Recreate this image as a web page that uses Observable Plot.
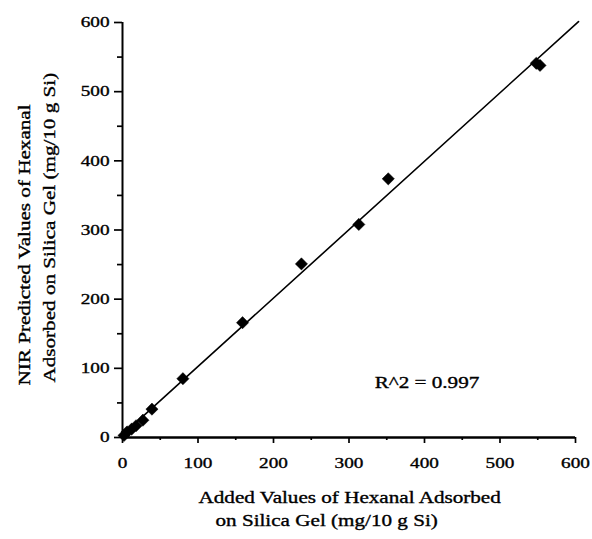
<!DOCTYPE html>
<html>
<head>
<meta charset="utf-8">
<script src="https://cdn.jsdelivr.net/npm/d3@7"></script>
<script src="https://cdn.jsdelivr.net/npm/@observablehq/plot@0.6"></script>
<style>
  html, body { margin: 0; padding: 0; background: white; }
  svg text { stroke: black; stroke-width: 0.35px; }
</style>
</head>
<body>
<script>
// Data
const addedValues     = [2, 6, 12, 18, 27, 39, 80, 159, 237, 313, 352, 548, 553];
const predictedValues = [3, 8, 12, 17, 25, 41, 85, 166, 251, 308, 374, 541, 538];
const majorTicks = [0, 100, 200, 300, 400, 500, 600];
const minorTicks = [50, 150, 250, 350, 450, 550];
const fitExtent = [0, 604];
const noteText = ["R^2 = 0.997"];
const noteX = [334];
const noteY = [72];
const xTitle = ["Added Values of Hexanal Adsorbed", "on Silica Gel (mg/10 g Si)"];
const yTitle = ["NIR Predicted Values of Hexanal", "Adsorbed on Silica Gel (mg/10 g Si)"];

const data = addedValues.map((x, i) => ({x, y: predictedValues[i]}));

// least-squares fit line
const mx = d3.mean(addedValues), my = d3.mean(predictedValues);
const slope = d3.sum(data, d => (d.x - mx) * (d.y - my)) / d3.sum(data, d => (d.x - mx) ** 2);
const intercept = my - slope * mx;
const fitLine = fitExtent.map(x => ({x, y: intercept + slope * x}));
const note = noteText.map((t, i) => ({t, x: noteX[i], y: noteY[i]}));

const serif = "'Liberation Serif', 'Times New Roman', serif";

const svg = Plot.plot({
  width: 592,
  height: 539,
  marginLeft: 122,
  marginRight: 17,
  marginTop: 22,
  marginBottom: 102,
  style: {fontFamily: serif, fontSize: "15px", background: "white", color: "black"},
  x: {domain: [0, 600]},
  y: {domain: [0, 600]},
  marks: [
    Plot.axisX({ticks: majorTicks, tickSize: 6, tickPadding: 14, strokeWidth: 1.7, tickFormat: d => String(d), label: null}),
    Plot.axisX({ticks: minorTicks, tickSize: 3, strokeWidth: 1.7, tickFormat: () => "", label: null}),
    Plot.axisY({ticks: majorTicks, tickSize: 8, tickPadding: 5, strokeWidth: 1.7, tickFormat: d => String(d), label: null}),
    Plot.axisY({ticks: minorTicks, tickSize: 5, strokeWidth: 1.7, tickFormat: () => "", label: null}),
    Plot.ruleY([0], {stroke: "black", strokeWidth: 2.6}),
    Plot.ruleX([0], {stroke: "black", strokeWidth: 2}),
    Plot.line(fitLine, {x: "x", y: "y", stroke: "black", strokeWidth: 1.6}),
    Plot.dot(data, {x: "x", y: "y", symbol: "diamond2", r: 5.5, fill: "black", stroke: "black", strokeWidth: 0.5}),
    Plot.text(note, {x: "x", y: "y", text: "t", textAnchor: "start", lineAnchor: "bottom", fontSize: 16.5}),
    Plot.text([xTitle[0]], {frameAnchor: "bottom-left", dx: 76, dy: 60, textAnchor: "start", lineAnchor: "middle", fontSize: 16.5}),
    Plot.text([xTitle[1]], {frameAnchor: "bottom-left", dx: 93, dy: 83, textAnchor: "start", lineAnchor: "middle", fontSize: 16.5}),
    Plot.text([yTitle[0]], {frameAnchor: "left", dx: -98, dy: 155.5, rotate: -90, textAnchor: "start", lineAnchor: "middle", fontSize: 16.5}),
    Plot.text([yTitle[1]], {frameAnchor: "left", dx: -73, dy: 152.5, rotate: -90, textAnchor: "start", lineAnchor: "middle", fontSize: 16.5})
  ]
});
document.body.append(svg);

// the scanned typeface is wider than Times: stretch glyphs horizontally
svg.querySelectorAll("text").forEach(t => {
  const L = t.getComputedTextLength();
  if (L > 0) {
    t.setAttribute("textLength", (L * 1.28).toFixed(1));
    t.setAttribute("lengthAdjust", "spacingAndGlyphs");
  }
});
</script>
</body>
</html>
